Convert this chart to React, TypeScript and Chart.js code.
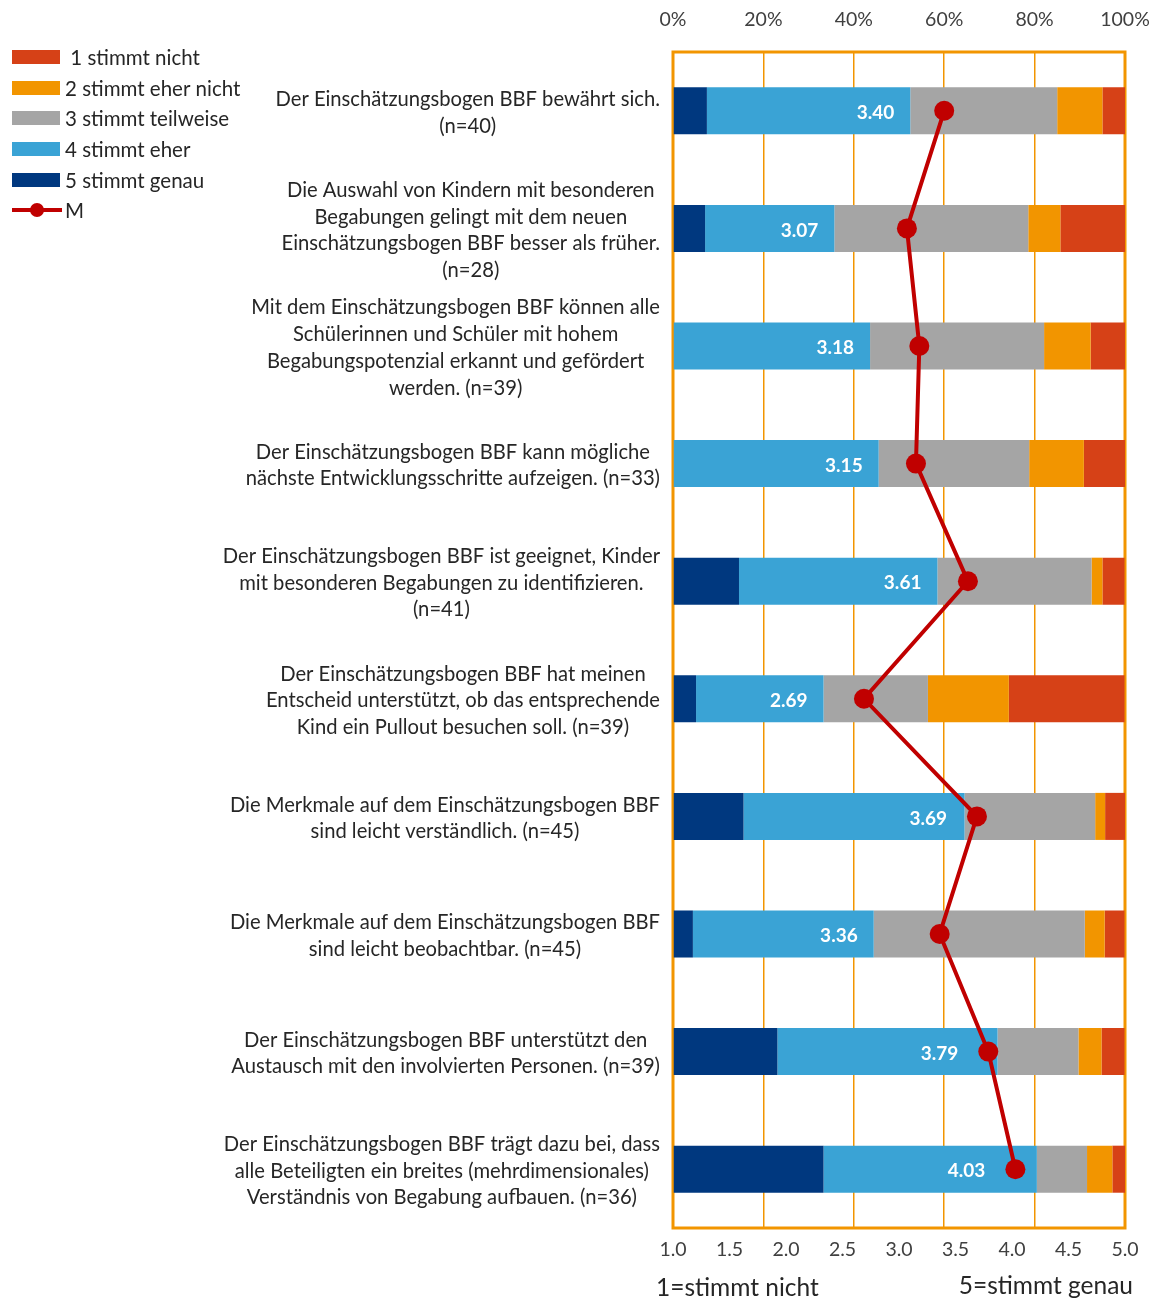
import React, { useEffect, useRef } from "react";
import { Chart, registerables } from "chart.js";

Chart.register(...registerables);

const categories: string[][] = [
  ["Der Einschätzungsbogen BBF bewährt sich.", "(n=40)"],
  ["Die Auswahl von Kindern mit besonderen", "Begabungen gelingt mit dem neuen", "Einschätzungsbogen BBF besser als früher.", "(n=28)"],
  ["Mit dem Einschätzungsbogen BBF können alle", "Schülerinnen und Schüler mit hohem", "Begabungspotenzial erkannt und gefördert", "werden. (n=39)"],
  ["Der Einschätzungsbogen BBF kann mögliche", "nächste Entwicklungsschritte aufzeigen. (n=33)"],
  ["Der Einschätzungsbogen BBF ist geeignet, Kinder", "mit besonderen Begabungen zu identifizieren.", "(n=41)"],
  ["Der Einschätzungsbogen BBF hat meinen", "Entscheid unterstützt, ob das entsprechende", "Kind ein Pullout besuchen soll. (n=39)"],
  ["Die Merkmale auf dem Einschätzungsbogen BBF", "sind leicht verständlich. (n=45)"],
  ["Die Merkmale auf dem Einschätzungsbogen BBF", "sind leicht beobachtbar. (n=45)"],
  ["Der Einschätzungsbogen BBF unterstützt den", "Austausch mit den involvierten Personen. (n=39)"],
  ["Der Einschätzungsbogen BBF trägt dazu bei, dass", "alle Beteiligten ein breites (mehrdimensionales)", "Verständnis von Begabung aufbauen. (n=36)"],
];

// percentages per answer
const genau = [7.5, 7.1, 0, 0, 14.6, 5.1, 15.6, 4.4, 23.1, 33.3];
const eher = [45.0, 28.6, 43.6, 45.5, 43.9, 28.2, 48.9, 40.0, 48.7, 47.2];
const teilweise = [32.5, 42.9, 38.5, 33.3, 34.1, 23.1, 28.9, 46.7, 17.9, 11.1];
const eherNicht = [10.0, 7.1, 10.3, 12.1, 2.4, 17.9, 2.2, 4.4, 5.1, 5.6];
const nicht = [5.0, 14.3, 7.7, 9.1, 4.9, 25.6, 4.4, 4.4, 5.1, 2.8];
const means = [3.4, 3.07, 3.18, 3.15, 3.61, 2.69, 3.69, 3.36, 3.79, 4.03];

const percentTicks = [0, 20, 40, 60, 80, 100];
const meanTicks = [1.0, 1.5, 2.0, 2.5, 3.0, 3.5, 4.0, 4.5, 5.0];

const legendLabels = [" 1 stimmt nicht", "2 stimmt eher nicht", "3 stimmt teilweise", "4 stimmt eher", "5 stimmt genau", "M"];
const axisTitleLeft = "1=stimmt nicht";
const axisTitleRight = "5=stimmt genau";

const C_NICHT = "#D64117";
const C_EHERNICHT = "#F29500";
const C_TEIL = "#A5A5A5";
const C_EHER = "#3AA3D5";
const C_GENAU = "#00387F";
const C_MEAN = "#C00000";
const C_FRAME = "#F29500";
const FONT = "Lato, 'Open Sans', sans-serif";
const TEXT = "#262626";

const overlayPlugin = {
  id: "overlay",
  beforeDatasetsDraw(chart: any) {
    const { ctx, chartArea } = chart;
    ctx.save();
    ctx.strokeStyle = C_FRAME;
    ctx.lineWidth = 3;
    ctx.strokeRect(chartArea.left, chartArea.top, chartArea.right - chartArea.left, chartArea.bottom - chartArea.top);
    ctx.restore();
  },
  afterDraw(chart: any) {
    const { ctx, chartArea } = chart;
    ctx.save();
    // value labels in light blue segment
    const meta = chart.getDatasetMeta(1);
    const lineMeta = chart.getDatasetMeta(5);
    ctx.font = `bold 19px ${FONT}`;
    ctx.fillStyle = "#FFFFFF";
    ctx.textAlign = "right";
    ctx.textBaseline = "middle";
    meta.data.forEach((el: any, i: number) => {
      const dot = lineMeta.data[i];
      const xr = Math.min(el.x - 16, dot.x - 30);
      ctx.fillText(means[i].toFixed(2), xr, el.y + 2);
    });

    // category labels
    const yScale = chart.scales.y;
    ctx.font = `20.2px ${FONT}`;
    ctx.fillStyle = TEXT;
    ctx.textAlign = "center";
    const lh = 26.7;
    const right = chartArea.left - 13;
    categories.forEach((lines, i) => {
      const cy = yScale.getPixelForValue(i) + 2;
      const maxW = Math.max(...lines.map((l) => ctx.measureText(l).width));
      const cx = right - maxW / 2;
      const y0 = cy - ((lines.length - 1) * lh) / 2;
      lines.forEach((l, k) => ctx.fillText(l, cx, y0 + k * lh));
    });

    // legend
    const colors = [C_NICHT, C_EHERNICHT, C_TEIL, C_EHER, C_GENAU];
    const rowY = [57, 88, 118, 149, 180, 210];
    ctx.textAlign = "left";
    ctx.font = `20.5px ${FONT}`;
    legendLabels.forEach((lab, i) => {
      const y = rowY[i];
      if (i < 5) {
        ctx.fillStyle = colors[i];
        ctx.fillRect(12, y - 7, 48, 14);
      } else {
        ctx.strokeStyle = C_MEAN;
        ctx.lineWidth = 4;
        ctx.beginPath();
        ctx.moveTo(12, y);
        ctx.lineTo(62, y);
        ctx.stroke();
        ctx.fillStyle = C_MEAN;
        ctx.beginPath();
        ctx.arc(37, y, 7, 0, Math.PI * 2);
        ctx.fill();
      }
      ctx.fillStyle = TEXT;
      ctx.fillText(lab, 65, y + 1);
    });

    // bottom titles
    ctx.font = `24.5px ${FONT}`;
    ctx.textAlign = "left";
    ctx.fillText(axisTitleLeft, 656, 1288);
    ctx.textAlign = "right";
    ctx.fillText(axisTitleRight, 1133, 1286);
    ctx.restore();
  },
};

export default function App() {
  const ref = useRef<HTMLCanvasElement | null>(null);
  useEffect(() => {
    if (!ref.current) return;
    const labels = categories.map((c) => c.join(" "));
    const barDs = (label: string, data: number[], color: string) => ({
      type: "bar" as const,
      label,
      data,
      backgroundColor: color,
      borderWidth: 0,
      xAxisID: "x",
      yAxisID: "y",
      barPercentage: 0.4,
      categoryPercentage: 1,
      order: 1,
    });
    const chart = new Chart(ref.current, {
      type: "bar",
      data: {
        labels,
        datasets: [
          barDs("5 stimmt genau", genau, C_GENAU),
          barDs("4 stimmt eher", eher, C_EHER),
          barDs("3 stimmt teilweise", teilweise, C_TEIL),
          barDs("2 stimmt eher nicht", eherNicht, C_EHERNICHT),
          barDs("1 stimmt nicht", nicht, C_NICHT),
          {
            type: "line" as const,
            label: "M",
            data: means,
            indexAxis: "y",
            xAxisID: "x2",
            yAxisID: "y",
            borderColor: C_MEAN,
            backgroundColor: C_MEAN,
            borderWidth: 4,
            pointRadius: 10,
            pointBorderWidth: 0,
            pointBackgroundColor: C_MEAN,
            order: 0,
          } as any,
        ],
      },
      options: {
        indexAxis: "y",
        responsive: false,
        animation: false,
        devicePixelRatio: 1,
        layout: { padding: { left: 0, right: 36, top: 0, bottom: 0 } },
        plugins: { legend: { display: false }, tooltip: { enabled: false } },
        scales: {
          x: {
            position: "top",
            stacked: true,
            min: 0,
            max: 100,
            afterBuildTicks: (s: any) => {
              s.ticks = percentTicks.map((v) => ({ value: v }));
            },
            ticks: {
              callback: (v: any) => `${v}%`,
              font: { family: FONT, size: 19.5 },
              color: "#404040",
              padding: 21,
            },
            grid: { color: C_FRAME, lineWidth: 1.5, drawTicks: false },
            border: { display: false },
            afterFit: (s: any) => {
              s.height = 52;
              s.paddingLeft = 0;
              s.paddingRight = 0;
            },
          },
          x2: {
            position: "bottom",
            min: 1,
            max: 5,
            afterBuildTicks: (s: any) => {
              s.ticks = meanTicks.map((v) => ({ value: v }));
            },
            ticks: {
              callback: (v: any) => Number(v).toFixed(1),
              font: { family: FONT, size: 19.5 },
              color: "#404040",
              padding: 10,
            },
            grid: { display: false, drawTicks: false },
            border: { display: false },
            afterFit: (s: any) => {
              s.height = 74;
              s.paddingLeft = 0;
              s.paddingRight = 0;
            },
          },
          y: {
            stacked: true,
            ticks: { display: false },
            grid: { display: false, drawTicks: false },
            border: { display: false },
            afterFit: (s: any) => {
              s.width = 673;
              s.paddingTop = 0;
              s.paddingBottom = 0;
            },
          },
        },
      },
      plugins: [overlayPlugin],
    } as any);
    return () => chart.destroy();
  }, []);
  return (
    <div style={{ position: "absolute", left: 0, top: 0, width: 1161, height: 1302 }}>
      <canvas ref={ref} width={1161} height={1302} style={{ display: "block" }} />
    </div>
  );
}
